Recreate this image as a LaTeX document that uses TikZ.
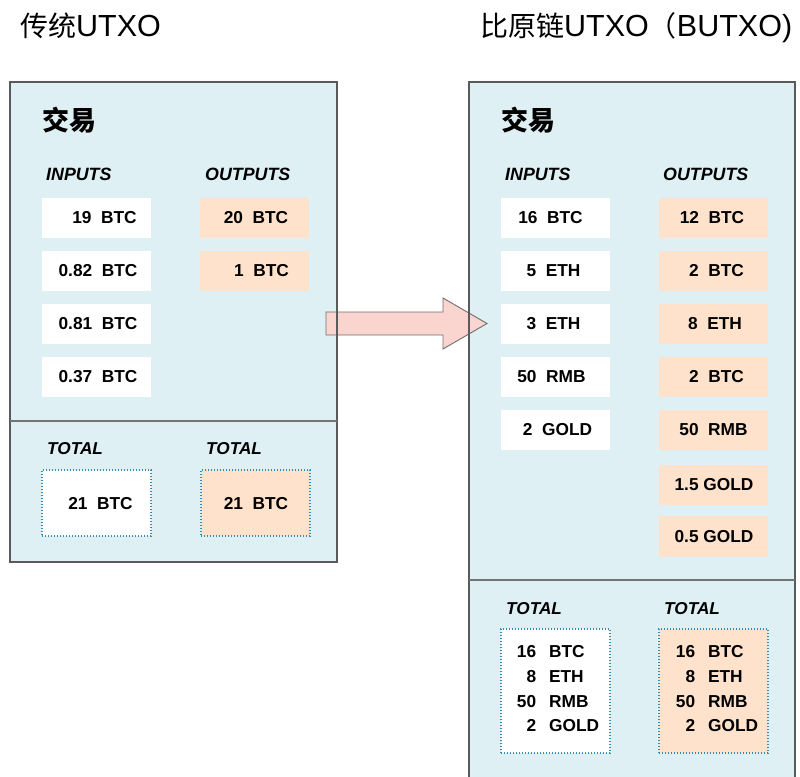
\documentclass[tikz,border=0pt]{standalone}
\usepackage{fontspec}
\setmainfont{Liberation Sans}
\newfontfamily\cjk{Noto Sans CJK SC}
\definecolor{panelfill}{HTML}{DFF0F5}
\definecolor{panelborder}{HTML}{5A5A5A}
\definecolor{outfill}{HTML}{FFE2CC}
\definecolor{dotblue}{HTML}{3A8AAE}
\definecolor{arrowfill}{HTML}{FAD4CE}
\definecolor{arrowline}{HTML}{6E6E6E}
\begin{document}
\begin{tikzpicture}[x=1pt,y=-1pt,
  panelline/.style={draw=panelborder, line width=1.5pt},
  divider/.style={draw=panelborder!85, line width=2pt},
  cellbox/.style={minimum width=109pt, minimum height=40pt, inner sep=0pt, outer sep=0pt, anchor=north west},
  incell/.style={cellbox, fill=white},
  outcell/.style={cellbox, fill=outfill},
  celltext/.style={font=\fontsize{17.3}{20}\selectfont\bfseries, inner sep=0pt},
  header/.style={font=\fontsize{17.8}{20}\selectfont\bfseries\itshape, anchor=west, inner sep=0pt},
  totalhdr/.style={header, font=\fontsize{17.2}{20}\selectfont\bfseries\itshape},
  totbox/.style={anchor=north west, minimum width=109pt, inner sep=0pt, outer sep=0pt, draw=dotblue, line width=1.2pt, dash pattern=on 1.4pt off 1.6pt},
  tottext/.style={font=\fontsize{17.3}{24.7}\selectfont\bfseries, inner sep=0pt},
  title/.style={font=\fontsize{30.5}{34}\selectfont, anchor=base west, inner sep=0pt},
  jiaoyi/.style={font=\cjk\bfseries\fontsize{27}{30}\selectfont, anchor=west, inner sep=0pt},
  blockarrow/.style={fill=arrowfill, draw=arrowline, line width=0.9pt, line join=miter}
]
\useasboundingbox (0,0) rectangle (800,776);

% titles
\node[title] (t1) at (20,37) {{\cjk\fontsize{28}{32}\selectfont 传统}UTXO};
\node[title] (t2) at (480,37) {{\cjk\fontsize{28}{32}\selectfont 比原链}UTXO{\cjk\fontsize{28}{32}\selectfont （}BUTXO)};

% panel fills
\fill[panelfill] (10,82) rectangle (337,562);
\fill[panelfill] (469,82) rectangle (795,790);

% block arrow
\draw[blockarrow] (326,312) -- (443,312) -- (443,298) -- (487,323.5) -- (443,349) -- (443,335) -- (326,335) -- cycle;

% panel borders and dividers
\draw[panelline] (10,82) rectangle (337,562);
\draw[panelline] (469,790) -- (469,82) -- (795,82) -- (795,790);
\draw[divider] (10,421) -- (337,421);
\draw[divider] (469,580) -- (795,580);

% ---------- left panel ----------
\node[jiaoyi] (lj) at (42,120) {交易};
\node[header] (lin) at (46,174) {INPUTS};
\node[header] (lout) at (205,174) {OUTPUTS};

\node[incell] (li1) at (42,198) {};
\node[incell] (li2) at (42,251) {};
\node[incell] (li3) at (42,304) {};
\node[incell] (li4) at (42,357) {};
\node[celltext] (lit1) at (104.5,218) {19~~BTC};
\node[celltext] (lit2) at (98,271) {0.82~~BTC};
\node[celltext] (lit3) at (98,324) {0.81~~BTC};
\node[celltext] (lit4) at (98,377) {0.37~~BTC};

\node[outcell] (lo1) at (200,198) {};
\node[outcell] (lo2) at (200,251) {};
\node[celltext] (lot1) at (256,218) {20~~BTC};
\node[celltext] (lot2) at (261.5,271) {1~~BTC};

\node[totalhdr] (ltl) at (47,449) {TOTAL};
\node[totalhdr] (ltr) at (206,449) {TOTAL};
\node[totbox, fill=white, minimum height=66pt] (ltb1) at (42,470) {};
\node[totbox, fill=outfill, minimum height=66pt] (ltb2) at (201,470) {};
\node[celltext] (ltt1) at (100.5,504) {21~~BTC};
\node[celltext] (ltt2) at (256,504) {21~~BTC};

% ---------- right panel ----------
\node[jiaoyi] (rj) at (501,120) {交易};
\node[header] (rin) at (505,174) {INPUTS};
\node[header] (rout) at (663,174) {OUTPUTS};

\node[incell] (ri1) at (501,198) {};
\node[incell] (ri2) at (501,251) {};
\node[incell] (ri3) at (501,304) {};
\node[incell] (ri4) at (501,357) {};
\node[incell] (ri5) at (501,410) {};
\node[celltext] (rit1) at (550.5,218) {16~~BTC};
\node[celltext] (rit2) at (553.5,271) {5~~ETH};
\node[celltext] (rit3) at (553.5,324) {3~~ETH};
\node[celltext] (rit4) at (551.5,377) {50~~RMB};
\node[celltext] (rit5) at (557.5,430) {2~~GOLD};

\node[outcell] (ro1) at (659,198) {};
\node[outcell] (ro2) at (659,251) {};
\node[outcell] (ro3) at (659,304) {};
\node[outcell] (ro4) at (659,357) {};
\node[outcell] (ro5) at (659,410) {};
\node[outcell] (ro6) at (659,465) {};
\node[outcell, minimum height=41pt] (ro7) at (659,516) {};
\node[celltext] (rot1) at (712,218) {12~~BTC};
\node[celltext] (rot2) at (716.5,271) {2~~BTC};
\node[celltext] (rot3) at (715,324) {8~~ETH};
\node[celltext] (rot4) at (716.5,377) {2~~BTC};
\node[celltext] (rot5) at (713.5,430) {50~~RMB};
\node[celltext] (rot6) at (714,485) {1.5 GOLD};
\node[celltext] (rot7) at (714,536.5) {0.5 GOLD};

\node[totalhdr] (rtl) at (506,609) {TOTAL};
\node[totalhdr] (rtr) at (664,609) {TOTAL};
\node[totbox, fill=white, minimum height=124pt] (rtb1) at (501,629) {};
\node[totbox, fill=outfill, minimum height=124pt] (rtb2) at (659,629) {};
\node[tottext] (rtt1) at (558,690) {\begin{tabular}{@{}r@{\hspace{13pt}}l@{}}16&BTC\\8&ETH\\50&RMB\\2&GOLD\end{tabular}};
\node[tottext] (rtt2) at (717,690) {\begin{tabular}{@{}r@{\hspace{13pt}}l@{}}16&BTC\\8&ETH\\50&RMB\\2&GOLD\end{tabular}};
\end{tikzpicture}
\end{document}
